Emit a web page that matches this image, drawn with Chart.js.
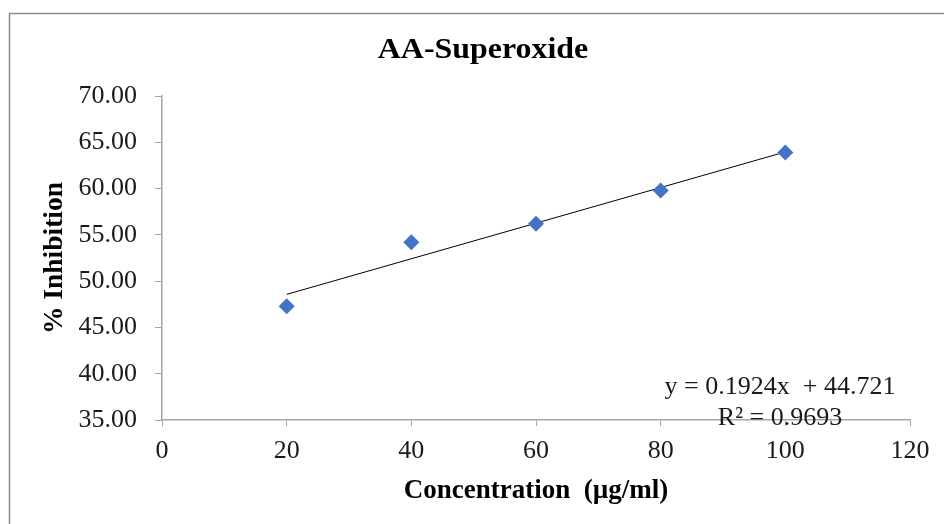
<!DOCTYPE html>
<html>
<head>
<meta charset="utf-8">
<title>AA-Superoxide</title>
<script src="https://cdn.jsdelivr.net/npm/chart.js@4/dist/chart.umd.min.js"></script>
<style>
  body { margin: 0; background: #fff; }
  canvas { display: block; }
</style>
</head>
<body>
<canvas id="chart" width="944" height="524"></canvas>
<script>
// values
var concentrations = [20, 40, 60, 80, 100];
var inhibition = [47.3, 54.2, 56.2, 59.8, 63.9];
// linear trendline end points (from y = 0.1924x + 44.721)
var trendX = [20, 100];
var trendY = [48.57, 63.96];
var equationLines = ["y = 0.1924x  + 44.721", "R\u00b2 = 0.9693"];
var chartTitle = "AA-Superoxide";

var serif = "'Liberation Serif', 'Times New Roman', serif";
var axisGray = "#a6a6a6";

function toPoints(xs, ys) {
    var pts = [];
    for (var i = 0; i < xs.length; i++) {
        pts.push({x: xs[i], y: ys[i]});
    }
    return pts;
}

// frame, title and trendline label drawn on the canvas
var extras = {
    id: 'extras',
    afterDraw: function(chart) {
        var ctx = chart.ctx;
        ctx.save();
        ctx.strokeStyle = "#8c8c8c";
        ctx.lineWidth = 1.5;
        ctx.beginPath();
        ctx.moveTo(9.5, 524);
        ctx.lineTo(9.5, 13.5);
        ctx.lineTo(944, 13.5);
        ctx.stroke();

        ctx.fillStyle = "#000";
        ctx.textAlign = "center";
        ctx.textBaseline = "middle";
        // reference text is a little wider than the font
        ctx.save();
        ctx.translate(483, 51);
        ctx.scale(1.1, 1);
        ctx.font = "bold 29px " + serif;
        ctx.fillText(chartTitle, 0, 0);
        ctx.restore();

        ctx.fillStyle = "#1a1a1a";
        ctx.font = "26px " + serif;
        ctx.fillText(equationLines[0], 780, 387);
        ctx.fillText(equationLines[1], 780, 418);
        ctx.restore();
    }
};

var ctx = document.getElementById('chart').getContext('2d');
var chart = new Chart(ctx, {
    type: 'scatter',
    data: {
        datasets: [{
            label: '% Inhibition',
            data: toPoints(concentrations, inhibition),
            pointStyle: 'rectRot',
            pointRadius: 8,
            pointHoverRadius: 8,
            backgroundColor: "#4472C4",
            borderColor: "#4472C4",
            borderWidth: 0
        }, {
            label: 'Linear',
            data: toPoints(trendX, trendY),
            showLine: true,
            pointRadius: 0,
            borderColor: "#000",
            borderWidth: 1
        }]
    },
    options: {
        responsive: false,
        animation: false,
        layout: {
            padding: {top: 96, right: 34, left: 0, bottom: 0}
        },
        plugins: {
            legend: {display: false},
            title: {display: false},
            tooltip: {enabled: false}
        },
        scales: {
            x: {
                type: 'linear',
                min: 0,
                max: 120,
                afterFit: function(s) { s.height = 104; },
                ticks: {
                    stepSize: 20,
                    padding: 10,
                    color: "#1a1a1a",
                    font: {family: serif, size: 26}
                },
                grid: {
                    drawOnChartArea: false,
                    tickLength: 6,
                    color: axisGray
                },
                border: {color: axisGray, width: 1.5},
                title: {
                    display: true,
                    text: "Concentration  (\u00b5g/ml)",
                    color: "#000",
                    font: {family: serif, size: 27, weight: 'bold'},
                    padding: {top: 0, bottom: 17}
                }
            },
            y: {
                min: 35,
                max: 70,
                afterFit: function(s) { s.width = 162; },
                ticks: {
                    stepSize: 5,
                    padding: 18,
                    color: "#1a1a1a",
                    font: {family: serif, size: 26},
                    callback: function(v) { return v.toFixed(2); }
                },
                grid: {
                    drawOnChartArea: false,
                    tickLength: 7,
                    color: axisGray
                },
                border: {color: axisGray, width: 1.5},
                title: {
                    display: true,
                    text: "% Inhibition",
                    color: "#000",
                    font: {family: serif, size: 27.5, weight: 'bold'},
                    padding: {top: 38, bottom: 0}
                }
            }
        }
    },
    plugins: [extras]
});
</script>
</body>
</html>
